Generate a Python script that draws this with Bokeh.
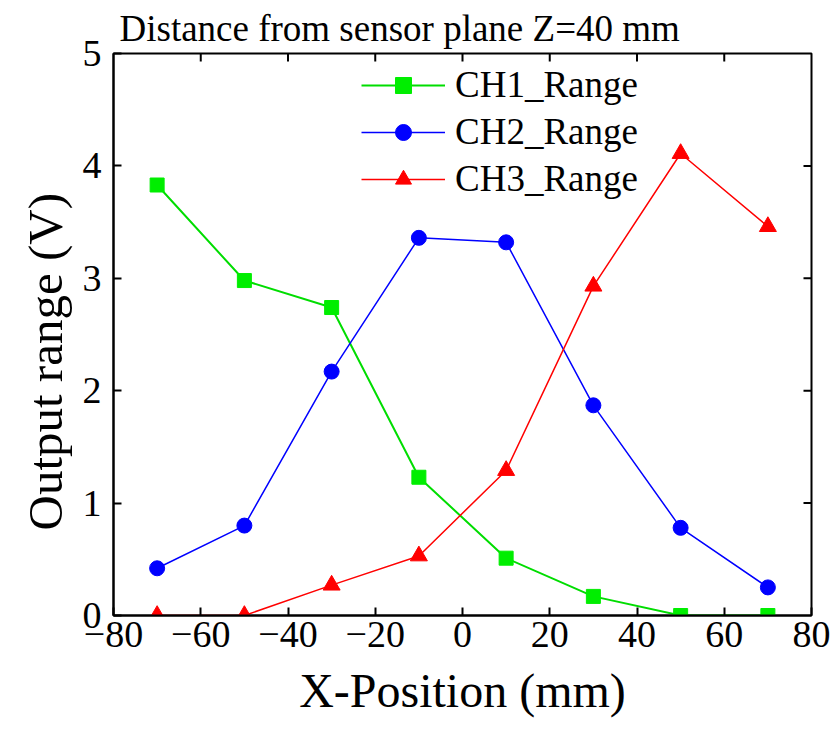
from bokeh.plotting import figure
from bokeh.models import Legend, LegendItem, Range1d, FixedTicker, Title
from bokeh.embed import file_html
from bokeh.resources import INLINE

x_pos = [-70, -50, -30, -10, 10, 30, 50, 70]
ch1 = [3.83, 2.98, 2.74, 1.23, 0.51, 0.17, 0.0, 0.0]
ch2 = [0.42, 0.80, 2.17, 3.36, 3.32, 1.87, 0.78, 0.25]
ch3 = [0.0, 0.0, 0.27, 0.53, 1.29, 2.93, 4.11, 3.46]
x_ticks = [-80, -60, -40, -20, 0, 20, 40, 60, 80]
y_ticks = [0, 1, 2, 3, 4, 5]
x_lim = (-80, 80)
y_lim = (0, 5)

FONT = "Liberation Serif"
W, H = 832, 735
BL, BR, BT, BB = 113, 21, 53, 120
TICK_PX = 8

p = figure(width=W, height=H, output_backend="svg", toolbar_location=None,
           x_range=Range1d(*x_lim), y_range=Range1d(*y_lim),
           min_border_left=BL, min_border_right=BR, min_border_top=BT, min_border_bottom=BB,
           x_axis_label="X-Position (mm)")
p.title = Title(text="Distance from sensor plane Z=40 mm", text_font=FONT, text_font_size="37px",
                text_font_style="normal", text_color="black", align="left", offset=6, standoff=9)
p.xgrid.visible = False
p.ygrid.visible = False
p.outline_line_color = "black"
p.outline_line_width = 2

for ax, ticks in ((p.xaxis[0], x_ticks), (p.yaxis[0], y_ticks)):
    ax.ticker = FixedTicker(ticks=ticks)
    ax.major_tick_in = TICK_PX
    ax.major_tick_out = 0
    ax.minor_tick_in = 0
    ax.minor_tick_out = 0
    ax.axis_line_width = 2
    ax.major_tick_line_width = 2
    ax.major_label_text_font = FONT
    ax.major_label_text_font_size = "38px"
    ax.axis_label_text_font = FONT
    ax.axis_label_text_font_size = "48px"
    ax.axis_label_text_font_style = "normal"
    ax.axis_label_text_color = "black"
    ax.major_label_text_color = "black"
p.xaxis[0].major_label_standoff = 6
p.xaxis[0].axis_label_standoff = 14
p.yaxis[0].major_label_standoff = 12
p.xaxis[0].major_label_overrides = {t: str(t).replace("-", "\u2212") for t in x_ticks}

# y-axis title placed slightly below the frame centre, as in the reference
p.add_layout(Title(text="Output range (V)", text_font=FONT, text_font_size="49px",
                   text_font_style="normal", text_color="black", align="left",
                   vertical_align="top", offset=85, standoff=10), "left")

# mirrored inward ticks on the top and right frame edges
plot_w = W - BL - BR
plot_h = H - BT - BB
dy = TICK_PX * (y_lim[1] - y_lim[0]) / plot_h
dx = TICK_PX * (x_lim[1] - x_lim[0]) / plot_w
xt = x_ticks[1:-1]
yt = y_ticks[1:-1]
p.segment(x0=xt, x1=xt, y0=[y_lim[1]] * len(xt), y1=[y_lim[1] - dy] * len(xt),
          line_color="black", line_width=2)
p.segment(x0=[x_lim[1]] * len(yt), x1=[x_lim[1] - dx] * len(yt), y0=yt, y1=yt,
          line_color="black", line_width=2)

green_line = "#00dd00"
green = "#00ee00"
blue = "#0000ff"
red = "#ff0000"

l1 = p.line(x_pos, ch1, line_color=green_line, line_width=2)
m1 = p.scatter(x_pos, ch1, marker="square", size=14, fill_color=green, line_color=green)
l2 = p.line(x_pos, ch2, line_color=blue, line_width=1.5)
m2 = p.scatter(x_pos, ch2, marker="circle", size=15, fill_color=blue, line_color=blue)
l3 = p.line(x_pos, ch3, line_color=red, line_width=1.5)
m3 = p.scatter(x_pos, ch3, marker="triangle", size=17, fill_color=red, line_color=red)

legend = Legend(items=[LegendItem(label="CH1_Range", renderers=[l1, m1]),
                       LegendItem(label="CH2_Range", renderers=[l2, m2]),
                       LegendItem(label="CH3_Range", renderers=[l3, m3])],
                location=(248, 415), orientation="vertical",
                glyph_width=84, glyph_height=40, label_height=40, spacing=4, padding=0, margin=0,
                label_standoff=10, label_text_font=FONT, label_text_font_size="37px",
                label_text_color="black",
                border_line_color=None, background_fill_alpha=0)
p.add_layout(legend)

open("out.html", "w").write(file_html(p, INLINE))
